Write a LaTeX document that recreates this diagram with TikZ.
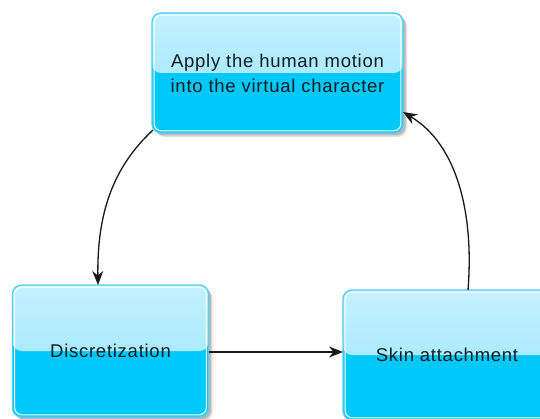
\documentclass[tikz,border=0pt]{standalone}
\usepackage{fontspec}
\setmainfont{Liberation Sans}[LetterSpace=4]
\usetikzlibrary{arrows.meta,shadows}
\definecolor{topc}{HTML}{C4F1FF}
\definecolor{midc}{HTML}{96E3FC}
\definecolor{lowc}{HTML}{00C8F8}
\definecolor{bord}{HTML}{4FCDF3}
\definecolor{txt}{HTML}{0E1E24}
\tikzset{
  box/.style={rounded corners=9pt, draw=bord, line width=1.3pt, fill=lowc,
    inner sep=0pt, outer sep=0pt, text=txt, align=center,
    font=\fontsize{18.5}{25}\selectfont,
    drop shadow={shadow xshift=2.5pt, shadow yshift=-2.5pt, opacity=0.18, fill=black},
    drop shadow={shadow xshift=4pt, shadow yshift=-4pt, opacity=0.12, fill=black},
    path picture={
      \fill[top color=topc, bottom color=midc]
        (path picture bounding box.north west) rectangle (path picture bounding box.east);
      \draw[white, line width=1pt, rounded corners=7pt]
        ([shift={(2.2pt,2.2pt)}]path picture bounding box.south west) rectangle
        ([shift={(-2.2pt,-2.2pt)}]path picture bounding box.north east);
    }},
  conn/.style={draw=black!90, line width=1.3pt, -{Stealth[length=14pt,width=11pt,inset=4.5pt]}}
}
\begin{document}
\begin{tikzpicture}[x=1pt,y=1pt]
\useasboundingbox (0,0) rectangle (540,-419);
\begin{scope}
\clip (0,0) rectangle (540,-419);
\node[box, minimum width=251pt, minimum height=120pt] (top) at (277.5,-73)
  {Apply the human motion\\into the virtual character};
\node[box, minimum width=196pt, minimum height=132pt] (disc) at (110.5,-351) {Discretization};
\node[box, minimum width=208pt, minimum height=130pt] (skin) at (447,-355) {Skin attachment};
\end{scope}
\draw[conn] ([shift={(1pt,3pt)}]top.south west) .. controls (112,-168) and (97,-215) .. ([xshift=-12.5pt]disc.north);
\draw[conn] ([yshift=-1pt]disc.east) -- ([yshift=-1pt]disc.east -| skin.west);
\draw[conn] ([xshift=21pt]skin.north) .. controls (474,-215) and (458,-145) .. ([yshift=-99pt]top.north east);
\end{tikzpicture}
\end{document}
